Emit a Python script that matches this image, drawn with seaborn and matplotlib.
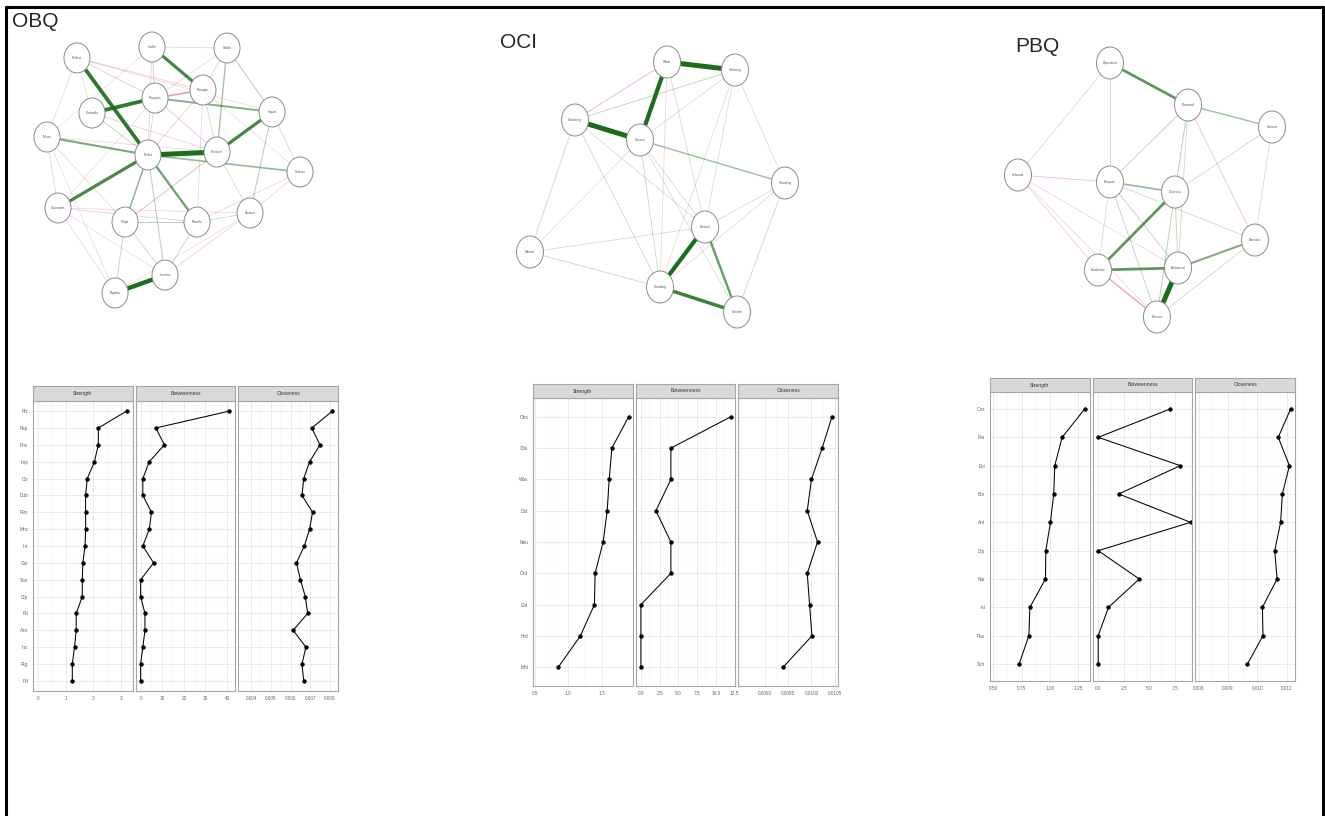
import numpy as np
import pandas as pd
import matplotlib
matplotlib.use("Agg")
import matplotlib.pyplot as plt
from matplotlib.patches import Ellipse
from matplotlib.lines import Line2D
import seaborn as sns

W, H = 1325, 816

# ---------------- network data (qgraph-style layout, scaled to -1..1) ----------------
obq_labels = ["Perfect", "Intolle", "Dubbi", "Rimugin", "Respons", "Controllo", "Minac",
              "Import", "Perfez", "Pensieri", "Certezz", "Sovrastim", "Colpa", "Ritualiz",
              "Azione", "Incertez", "Rigidita"]
obq_x = [-0.763, -0.170, 0.423, 0.233, -0.146, -0.644, -1.0, 0.779, -0.202, 0.344, 1.0,
         -0.913, -0.383, 0.186, 0.605, -0.067, -0.462]
obq_y = [0.911, 1.0, 0.992, 0.650, 0.585, 0.463, 0.268, 0.472, 0.122, 0.146, -0.016,
         -0.309, -0.423, -0.423, -0.350, -0.854, -1.0]
obq_edges = [(0, 8, 0.35), (4, 5, 0.35), (1, 3, 0.30), (8, 9, 0.45), (9, 7, 0.30),
             (8, 11, 0.30), (8, 6, 0.20), (8, 13, 0.22), (8, 12, 0.15), (15, 16, 0.40),
             (4, 7, 0.18), (8, 10, 0.15), (2, 9, 0.12), (7, 14, 0.08), (2, 7, 0.08),
             (12, 13, 0.08), (1, 4, 0.06), (8, 15, 0.08), (12, 16, 0.06), (13, 15, 0.06),
             (5, 8, 0.06), (6, 11, 0.04), (1, 2, 0.04), (0, 6, 0.03), (2, 3, 0.05),
             (10, 7, 0.05), (3, 9, 0.05), (13, 14, 0.05), (12, 15, 0.05), (4, 8, 0.04),
             (3, 4, -0.15), (0, 4, -0.06), (0, 3, -0.05), (1, 8, -0.05), (4, 9, -0.06),
             (5, 9, -0.05), (6, 9, -0.04), (11, 13, -0.05), (11, 14, -0.04), (3, 8, -0.05),
             (3, 13, -0.04), (7, 12, -0.04), (10, 14, -0.04), (15, 14, -0.05),
             (16, 11, -0.04), (0, 7, -0.04), (1, 10, -0.03), (2, 4, -0.04), (6, 12, -0.04),
             (11, 15, -0.03), (0, 5, -0.03), (9, 14, -0.05), (13, 10, -0.04),
             (12, 9, -0.04), (4, 11, -0.03), (6, 1, -0.03), (16, 14, -0.03), (6, 16, -0.03)]

oci_labels = ["Wash", "Ordering", "Checking", "Obsess", "Hoarding", "Neutral",
              "Mental", "Doubting", "Contam"]
oci_x = [0.075, 0.608, -0.647, -0.137, 1.0, 0.373, -1.0, 0.020, 0.624]
oci_y = [1.0, 0.936, 0.536, 0.376, 0.032, -0.320, -0.520, -0.800, -1.0]
oci_edges = [(0, 1, 0.35), (0, 3, 0.30), (2, 3, 0.35), (3, 4, 0.10), (5, 7, 0.30),
             (7, 8, 0.25), (5, 8, 0.18), (0, 2, -0.06), (2, 1, 0.05), (3, 1, 0.03),
             (0, 5, 0.03), (0, 7, -0.03), (1, 5, 0.03), (1, 4, 0.03), (1, 7, -0.03),
             (2, 6, 0.04), (2, 7, 0.04), (2, 5, 0.03), (3, 6, -0.03), (3, 7, 0.04),
             (3, 5, 0.03), (3, 8, 0.03), (6, 7, 0.04), (6, 5, 0.03), (4, 7, -0.03),
             (4, 5, 0.03), (4, 8, 0.04)]

pbq_labels = ["Dipendent", "Paranoid", "Istrionic", "Schizoid", "Evitante", "Ossessiv",
              "Narcisist", "Borderline", "Antisocial", "Passivo"]
pbq_x = [-0.276, 0.339, 1.0, -1.0, -0.276, 0.236, 0.866, -0.370, 0.260, 0.094]
pbq_y = [1.0, 0.669, 0.496, 0.118, 0.063, -0.016, -0.394, -0.630, -0.614, -1.0]
pbq_edges = [(0, 1, 0.20), (1, 2, 0.10), (4, 5, 0.12), (5, 7, 0.20), (7, 8, 0.20),
             (8, 6, 0.15), (8, 9, 0.35), (7, 9, -0.10), (3, 4, -0.05), (0, 4, -0.05),
             (0, 3, 0.03), (1, 4, 0.05), (1, 5, 0.06), (1, 6, -0.05), (1, 8, 0.04),
             (2, 5, 0.04), (2, 6, 0.03), (4, 6, 0.04), (4, 8, 0.05), (4, 9, 0.05),
             (5, 8, 0.05), (5, 9, 0.06), (6, 9, 0.04), (3, 7, -0.04), (3, 9, -0.03),
             (3, 8, -0.03), (4, 7, 0.03)]

# ---------------- centrality data (rows from top to bottom) ----------------
obq_rows = ["Pfz", "Rsp", "Pns", "Imp", "Ctr", "Dub", "Rim", "Mnc", "Int", "Cer",
            "Sov", "Clp", "Rit", "Azn", "Inc", "Rig", "Prf"]
obq_strength = [3.20, 2.18, 2.18, 2.04, 1.78, 1.72, 1.72, 1.72, 1.70, 1.62, 1.60, 1.60,
                1.38, 1.38, 1.32, 1.24, 1.24]
obq_betweenness = [41, 7, 11, 4, 1, 1, 5, 4, 1, 6, 0, 0, 2, 2, 1, 0, 0]
obq_closeness = [0.00813, 0.00708, 0.00750, 0.00697, 0.00667, 0.00658, 0.00712, 0.00697,
                 0.00670, 0.00630, 0.00650, 0.00675, 0.00687, 0.00613, 0.00678, 0.00658,
                 0.00667]

oci_rows = ["Obs", "Chk", "Was", "Dbt", "Neu", "Ord", "Cnt", "Hrd", "Mnt"]
oci_strength = [1.90, 1.65, 1.61, 1.58, 1.52, 1.40, 1.39, 1.18, 0.85]
oci_betweenness = [12, 4, 4, 2, 4, 4, 0, 0, 0]
oci_closeness = [0.01044, 0.01023, 0.01000, 0.00991, 0.01013, 0.00991, 0.00996, 0.01001,
                 0.00939]

pbq_rows = ["Oss", "Par", "Evi", "Bor", "Ant", "Dip", "Nar", "Ist", "Pas", "Sch"]
pbq_strength = [1.309, 1.109, 1.044, 1.035, 1.006, 0.965, 0.962, 0.824, 0.815, 0.729]
pbq_betweenness = [7, 0, 8, 2, 9, 0, 4, 1, 0, 0]
pbq_closeness = [0.01113, 0.01071, 0.01109, 0.01085, 0.01079, 0.01059, 0.01067, 0.01017,
                 0.01019, 0.00966]

facet_names = ["Strength", "Betweenness", "Closeness"]


def px_axes(fig, x0, y0, x1, y1):
    return fig.add_axes([x0 / W, 1 - y1 / H, (x1 - x0) / W, (y1 - y0) / H])


def disegna_rete(fig, box, xs, ys, labels, edges, node_w=26, node_h=30):
    x0, y0, x1, y1 = box
    ax = px_axes(fig, x0, y0, x1, y1)
    ax.set_xlim(-1, 1)
    ax.set_ylim(-1, 1)
    ax.axis("off")
    wmax = max(abs(e[2]) for e in edges)
    for a, b, w in sorted(edges, key=lambda e: abs(e[2])):
        r = abs(w) / wmax
        col = "#1A6E1A" if w > 0 else "#C23A32"
        ax.plot([xs[a], xs[b]], [ys[a], ys[b]], color=col,
                lw=0.4 + 3.2 * r ** 1.3, alpha=min(1.0, 0.14 + 1.0 * r),
                solid_capstyle="butt", zorder=1, clip_on=False)
    ew = node_w * 2 / (x1 - x0)
    eh = node_h * 2 / (y1 - y0)
    for xi, yi, lab in zip(xs, ys, labels):
        ax.add_patch(Ellipse((xi, yi), ew, eh, facecolor="white", edgecolor="#8C8C8C",
                             lw=0.7, zorder=3, clip_on=False))
        ax.text(xi, yi, lab, fontsize=2.3, ha="center", va="center", color="#555555",
                zorder=4)
    return ax


def disegna_centralita(fig, x0, x1, strip_top, panel_top, panel_bottom, rows, valori,
                       limiti, ticks, tick_fmt):
    n = len(rows)
    gap = 3
    fw = (x1 - x0 - 2 * gap) / 3
    for k in range(3):
        fx0 = x0 + k * (fw + gap)
        ax = px_axes(fig, fx0, panel_top, fx0 + fw, panel_bottom)
        df = pd.DataFrame({"valore": valori[k], "riga": np.arange(n)})
        sns.lineplot(data=df, x="valore", y="riga", sort=False, estimator=None,
                     color="black", lw=0.75, marker="o", markersize=2.4,
                     markeredgecolor="black", ax=ax)
        ax.set_xlim(limiti[k])
        ax.set_ylim(n - 1 + 0.6, -0.6)
        ax.set_xticks(ticks[k])
        ax.set_xticklabels([tick_fmt[k].format(t) for t in ticks[k]])
        mids = [(ticks[k][i] + ticks[k][i + 1]) / 2 for i in range(len(ticks[k]) - 1)]
        ax.set_xticks(mids, minor=True)
        ax.set_yticks(np.arange(n))
        ax.grid(True, which="major", color="#E3E3E3", lw=0.5)
        ax.grid(True, which="minor", axis="x", color="#EFEFEF", lw=0.3)
        ax.set_axisbelow(True)
        ax.set_xlabel("")
        ax.set_ylabel("")
        for sp in ax.spines.values():
            sp.set_color("#A6A6A6")
            sp.set_linewidth(0.8)
        ax.tick_params(axis="both", which="major", length=2, width=0.4, color="#999999",
                       labelsize=3.4, labelcolor="#666666", pad=1.5)
        ax.tick_params(axis="both", which="minor", length=0)
        if k == 0:
            ax.set_yticklabels(rows)
        else:
            ax.tick_params(axis="y", length=0, labelleft=False)
        st = px_axes(fig, fx0, strip_top, fx0 + fw, panel_top)
        st.set_facecolor("#D9D9D9")
        st.set_xticks([])
        st.set_yticks([])
        for sp in st.spines.values():
            sp.set_color("#A6A6A6")
            sp.set_linewidth(0.8)
        st.text(0.5, 0.5, facet_names[k], ha="center", va="center", fontsize=3.6,
                color="#333333", transform=st.transAxes)


def main():
    sns.set_style("white")
    plt.rcParams["font.family"] = ["Liberation Sans", "DejaVu Sans"]
    fig = plt.figure(figsize=(W / 100, H / 100), dpi=100)

    # cornice
    fig.add_artist(Line2D([6 / W, 6 / W], [0, 1 - 7 / H], color="black", lw=2.2,
                          transform=fig.transFigure))
    fig.add_artist(Line2D([6 / W, 1323 / W], [1 - 7 / H, 1 - 7 / H], color="black",
                          lw=2.2, transform=fig.transFigure))
    fig.add_artist(Line2D([1323 / W, 1323 / W], [0, 1 - 7 / H], color="black", lw=2.2,
                          transform=fig.transFigure))

    fig.text(12 / W, 1 - 12 / H, "OBQ", fontsize=15, ha="left", va="top")
    fig.text(500 / W, 1 - 33 / H, "OCI", fontsize=15, ha="left", va="top")
    fig.text(1015 / W, 1 - 37 / H, "PBQ", fontsize=15, ha="left", va="top")

    disegna_rete(fig, (47, 47, 300, 293), obq_x, obq_y, obq_labels, obq_edges)
    disegna_rete(fig, (530, 62, 785, 312), oci_x, oci_y, oci_labels, oci_edges, 27, 32)
    disegna_rete(fig, (1018, 63, 1272, 317), pbq_x, pbq_y, pbq_labels, pbq_edges, 27, 32)

    disegna_centralita(fig, 33, 338, 386, 401, 691, obq_rows,
                       [obq_strength, obq_betweenness, obq_closeness],
                       [(-0.18, 3.42), (-2.3, 43.8), (0.00333, 0.00842)],
                       [[0, 1, 2, 3], [0, 10, 20, 30, 40],
                        [0.004, 0.005, 0.006, 0.007, 0.008]],
                       ["{:.0f}", "{:.0f}", "{:.3f}"])
    disegna_centralita(fig, 533, 838, 384, 398, 686, oci_rows,
                       [oci_strength, oci_betweenness, oci_closeness],
                       [(0.474, 1.96), (-0.7, 12.6), (0.00843, 0.01057)],
                       [[0.5, 1.0, 1.5], [0, 2.5, 5, 7.5, 10, 12.5],
                        [0.0090, 0.0095, 0.0100, 0.0105]],
                       ["{:.1f}", "{:.1f}", "{:.4f}"])
    disegna_centralita(fig, 990, 1295, 378, 392, 681, pbq_rows,
                       [pbq_strength, pbq_betweenness, pbq_closeness],
                       [(0.471, 1.353), (-0.54, 9.17), (0.007886, 0.01128)],
                       [[0.50, 0.75, 1.00, 1.25], [0, 2.5, 5, 7.5],
                        [0.008, 0.009, 0.010, 0.011]],
                       ["{:.2f}", "{:.1f}", "{:.3f}"])

    fig.savefig("out.png", dpi=100)


if __name__ == "__main__":
    main()
